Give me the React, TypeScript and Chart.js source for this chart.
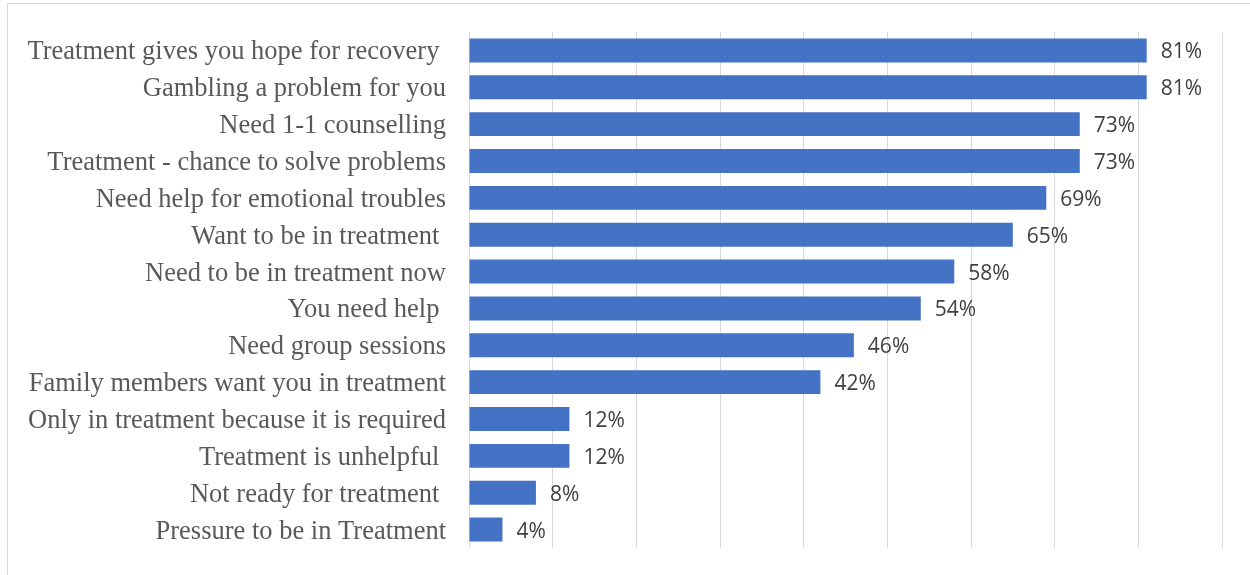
import React, { useEffect, useRef } from "react";
import { Chart, registerables } from "chart.js";

Chart.register(...registerables);

const categories = [
  "Treatment gives you hope for recovery ",
  "Gambling a problem for you",
  "Need 1-1 counselling",
  "Treatment - chance to solve problems",
  "Need help for emotional troubles",
  "Want to be in treatment ",
  "Need to be in treatment now",
  "You need help ",
  "Need group sessions",
  "Family members want you in treatment",
  "Only in treatment because it is required",
  "Treatment is unhelpful ",
  "Not ready for treatment ",
  "Pressure to be in Treatment",
];

const values = [81, 81, 73, 73, 69, 65, 58, 54, 46, 42, 12, 12, 8, 4];

const labelPlugin = {
  id: "valueLabels",
  afterDatasetsDraw(chart: any) {
    const { ctx } = chart;
    const meta = chart.getDatasetMeta(0);
    ctx.save();
    ctx.font = '21px "Open Sans"';
    ctx.fillStyle = "#404040";
    ctx.textAlign = "left";
    ctx.textBaseline = "middle";
    meta.data.forEach((bar: any, i: number) => {
      ctx.fillText(values[i] + "%", bar.x + 14, bar.y + 2);
    });
    ctx.restore();
  },
};

export default function App() {
  const ref = useRef<HTMLCanvasElement>(null);
  useEffect(() => {
    if (!ref.current) return;
    const chart = new Chart(ref.current, {
      type: "bar",
      data: {
        labels: categories,
        datasets: [
          {
            data: values,
            backgroundColor: "#4472C4",
            categoryPercentage: 0.65,
            barPercentage: 1,
          },
        ],
      },
      options: {
        indexAxis: "y",
        animation: false,
        responsive: false,
        maintainAspectRatio: false,
        layout: { padding: { left: 0, top: 32, right: 28, bottom: 27 } },
        plugins: { legend: { display: false }, tooltip: { enabled: false } },
        scales: {
          x: {
            min: 0,
            max: 90,
            ticks: { display: false, stepSize: 10, padding: 0 },
            grid: { color: "#d9d9d9", lineWidth: 1, drawTicks: false },
            border: { display: false },
            afterFit(scale: any) {
              scale.height = 0;
              scale.paddingLeft = 0;
              scale.paddingRight = 0;
            },
          },
          y: {
            grid: { display: false, drawTicks: false },
            border: { display: false },
            ticks: {
              font: { family: "Liberation Serif", size: 26.5 },
              color: "#595959",
              padding: 23,
              labelOffset: 2,
            },
            afterFit(scale: any) {
              scale.width = 469;
              scale.paddingTop = 0;
              scale.paddingBottom = 0;
            },
          },
        },
      },
      plugins: [labelPlugin],
    });
    return () => chart.destroy();
  }, []);
  return (
    <div style={{ position: "fixed", left: 0, top: 0, width: 1250, height: 575, background: "#fff", overflow: "hidden" }}>
      <div
        style={{
          position: "absolute",
          left: 7,
          top: 3,
          width: 1260,
          height: 600,
          border: "1px solid #d9d9d9",
          boxSizing: "border-box",
        }}
      />
      <canvas ref={ref} width={1250} height={575} style={{ position: "absolute", left: 0, top: 0 }} />
    </div>
  );
}
